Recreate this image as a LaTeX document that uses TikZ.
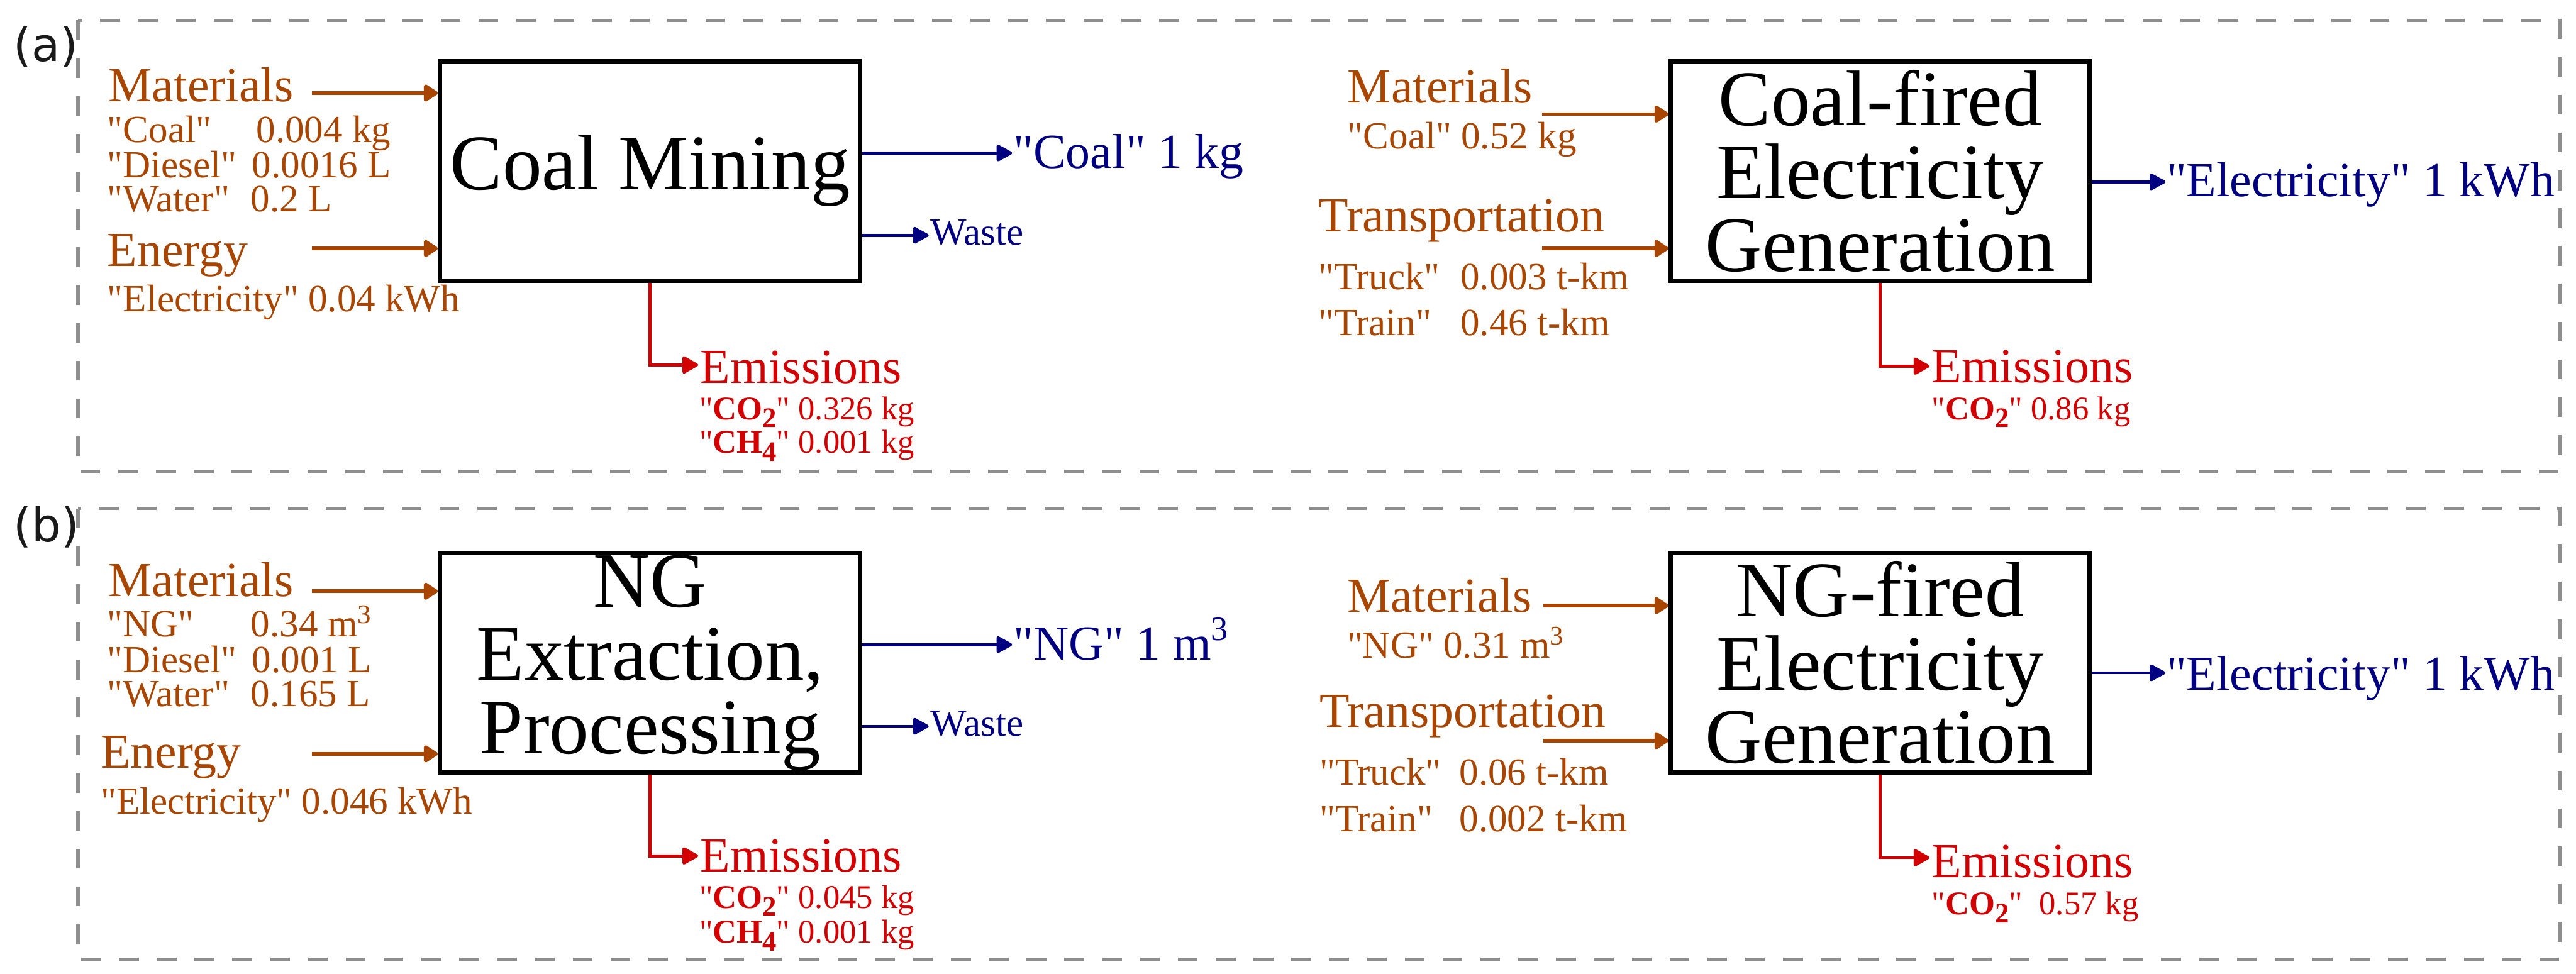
\documentclass[tikz,border=0pt]{standalone}
\usepackage{fontspec}
\setmainfont{Liberation Serif}
\newfontfamily\labfont{DejaVu Sans}
\usepackage{graphicx}
\usetikzlibrary{arrows.meta}
\definecolor{matC}{RGB}{168,69,0}
\definecolor{outC}{RGB}{0,0,128}
\definecolor{emC}{RGB}{210,0,0}
\definecolor{panC}{RGB}{142,142,142}
\definecolor{labC}{RGB}{26,26,26}
\newcommand{\dq}{\XeTeXglyph\XeTeXcharglyph"22\relax}
\newcommand{\lsub}[1]{\raisebox{-0.24em}{\scalebox{0.85}{#1}}}
\newcommand{\chm}[2]{\textbf{#1\lsub{#2}}}
\begin{document}
\begin{tikzpicture}[x=1cm,y=1cm,
  hd/.style={anchor=base west, inner sep=0, outer sep=0, font=\fontsize{23.2}{26}\selectfont},
  qt/.style={anchor=base west, inner sep=0, outer sep=0, font=\fontsize{18.2}{20}\selectfont, text=matC},
  eq/.style={anchor=base west, inner sep=0, outer sep=0, font=\fontsize{15.7}{18}\selectfont, text=emC},
  proc/.style={draw, line width=0.075cm, minimum width=7cm, minimum height=3.66cm, align=center, inner sep=0, font=\fontsize{37.3}{34.7}\selectfont},
  inarr/.style={draw=matC, line width=0.06cm, -{Triangle[length=0.26cm,width=0.32cm,round]}},
  outarr/.style={draw=outC, line width=0.05cm, -{Triangle[length=0.29cm,width=0.30cm,round]}},
  emarr/.style={draw=emC, line width=0.05cm, -{Triangle[length=0.29cm,width=0.31cm,round]}},
  panel/.style={draw=panC, line width=0.06cm, dash pattern=on 0.33cm off 0.30cm},
  plabel/.style={anchor=base west, inner sep=0, outer sep=0, font=\labfont\fontsize{22}{24}\selectfont, text=labC}
]
\useasboundingbox (0,0) rectangle (42.91,-16.22);

% panels
\draw[panel] (1.30,-0.34) rectangle (42.64,-7.86);
\draw[panel] (1.30,-8.47) rectangle (42.64,-15.98);
\node[plabel] (la) at (0.23,-1.02) {(a)};
\node[plabel] (lb) at (0.23,-9.03) {(b)};

% process boxes
\node[proc] (cm) at (10.83,-2.85) {Coal Mining};
\node[proc, minimum width=6.98cm] (cf) at (31.32,-2.85) {Coal-fired\\Electricity\\Generation};
\node[proc] (ng) at (10.83,-11.04) {NG\\Extraction,\\Processing};
\node[proc, minimum width=6.98cm] (nf) at (31.32,-11.04) {NG-fired\\Electricity\\Generation};

% ---------- (a) left ----------
\node[hd, text=matC] (am) at (1.81,-1.69) {Materials};
\node[qt] (aq1) at (1.79,-2.37) {\makebox[2.48cm][l]{\dq Coal\dq}0.004 kg};
\node[qt] (aq2) at (1.79,-2.96) {\makebox[2.41cm][l]{\dq Diesel\dq}0.0016 L};
\node[qt] (aq3) at (1.79,-3.52) {\makebox[2.39cm][l]{\dq Water\dq}0.2 L};
\node[hd, text=matC] (ae) at (1.79,-4.44) {Energy};
\node[qt] (aq4) at (1.79,-5.19) {\dq Electricity\dq{} 0.04 kWh};
\coordinate (amS) at (5.20,-1.55);
\coordinate (aeS) at (5.20,-4.14);
\draw[inarr] (amS) -- (amS -| cm.west);
\draw[inarr] (aeS) -- (aeS -| cm.west);

\coordinate (aoT) at (16.86,-2.55);
\node[hd, text=outC] (ao) at (16.88,-2.80) {\dq Coal\dq{} 1 kg};
\draw[outarr] (cm.east |- aoT) -- (aoT);
\coordinate (awT) at (15.47,-3.92);
\node[qt, text=outC] (aw) at (15.50,-4.08) {Waste};
\draw[outarr] (cm.east |- awT) -- (awT);

\coordinate (aeT) at (11.63,-6.08);
\node[hd, text=emC] (aem) at (11.67,-6.38) {Emissions};
\draw[emarr] (cm.south) |- (aeT);
\node[eq] (ae1) at (11.65,-6.99) {\dq\chm{CO}{2}\dq{} 0.326 kg};
\node[eq] (ae2) at (11.65,-7.55) {\dq\chm{CH}{4}\dq{} 0.001 kg};

% ---------- (a) right ----------
\node[hd, text=matC] (bm) at (22.45,-1.71) {Materials};
\node[qt] (bq1) at (22.45,-2.48) {\dq Coal\dq{} 0.52 kg};
\node[hd, text=matC] (bt) at (21.96,-3.86) {Transportation};
\node[qt] (bq2) at (21.96,-4.82) {\makebox[2.37cm][l]{\dq Truck\dq}0.003 t-km};
\node[qt] (bq3) at (21.96,-5.59) {\makebox[2.37cm][l]{\dq Train\dq}0.46 t-km};
\coordinate (bmS) at (25.69,-1.90);
\coordinate (btS) at (25.69,-4.14);
\draw[inarr] (bmS) -- (bmS -| cf.west);
\draw[inarr] (btS) -- (btS -| cf.west);

\coordinate (boT) at (36.07,-3.03);
\node[hd, text=outC] (bo) at (36.09,-3.27) {\dq Electricity\dq{} 1 kWh};
\draw[outarr] (cf.east |- boT) -- (boT);

\coordinate (beT) at (32.14,-6.10);
\node[hd, text=emC] (bem) at (32.18,-6.37) {Emissions};
\draw[emarr] (cf.south) |- (beT);
\node[eq] (be1) at (32.18,-6.99) {\dq\chm{CO}{2}\dq{} 0.86 kg};

% ---------- (b) left ----------
\node[hd, text=matC] (cmat) at (1.81,-9.94) {Materials};
\node[qt] (cq1) at (1.79,-10.61) {\makebox[2.39cm][l]{\dq NG\dq}0.34 m\textsuperscript{3}};
\node[qt] (cq2) at (1.79,-11.20) {\makebox[2.41cm][l]{\dq Diesel\dq}0.001 L};
\node[qt] (cq3) at (1.79,-11.77) {\makebox[2.39cm][l]{\dq Water\dq}0.165 L};
\node[hd, text=matC] (ce) at (1.68,-12.80) {Energy};
\node[qt] (cq4) at (1.68,-13.56) {\dq Electricity\dq{} 0.046 kWh};
\coordinate (cmS) at (5.20,-9.85);
\coordinate (ceS) at (5.20,-12.56);
\draw[inarr] (cmS) -- (cmS -| ng.west);
\draw[inarr] (ceS) -- (ceS -| ng.west);

\coordinate (coT) at (16.86,-10.74);
\node[hd, text=outC] (co) at (16.88,-10.99) {\dq NG\dq{} 1 m\textsuperscript{3}};
\draw[outarr] (ng.east |- coT) -- (coT);
\coordinate (cwT) at (15.47,-12.10);
\node[qt, text=outC] (cw) at (15.50,-12.26) {Waste};
\draw[outarr] (ng.east |- cwT) -- (cwT);

\coordinate (ceT) at (11.63,-14.26);
\node[hd, text=emC] (cem) at (11.67,-14.52) {Emissions};
\draw[emarr] (ng.south) |- (ceT);
\node[eq] (ce1) at (11.65,-15.13) {\dq\chm{CO}{2}\dq{} 0.045 kg};
\node[eq] (ce2) at (11.65,-15.71) {\dq\chm{CH}{4}\dq{} 0.001 kg};

% ---------- (b) right ----------
\node[hd, text=matC] (dm) at (22.44,-10.20) {Materials};
\node[qt] (dq1) at (22.44,-10.96) {\dq NG\dq{} 0.31 m\textsuperscript{3}};
\node[hd, text=matC] (dt) at (21.98,-12.12) {Transportation};
\node[qt] (dq2) at (21.98,-13.08) {\makebox[2.33cm][l]{\dq Truck\dq}0.06 t-km};
\node[qt] (dq3) at (21.98,-13.85) {\makebox[2.33cm][l]{\dq Train\dq}0.002 t-km};
\coordinate (dmS) at (25.71,-10.09);
\coordinate (dtS) at (25.71,-12.34);
\draw[inarr] (dmS) -- (dmS -| nf.west);
\draw[inarr] (dtS) -- (dtS -| nf.west);

\coordinate (doT) at (36.07,-11.21);
\node[hd, text=outC] (do) at (36.09,-11.50) {\dq Electricity\dq{} 1 kWh};
\draw[outarr] (nf.east |- doT) -- (doT);

\coordinate (deT) at (32.14,-14.29);
\node[hd, text=emC] (dem) at (32.18,-14.62) {Emissions};
\draw[emarr] (nf.south) |- (deT);
\node[eq] (de1) at (32.18,-15.24) {\dq\chm{CO}{2}\dq\ \ 0.57 kg};
\end{tikzpicture}
\end{document}
